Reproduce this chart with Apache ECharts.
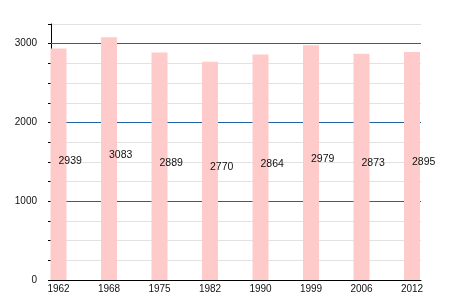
<!DOCTYPE html>
<html>
<head>
<meta charset="utf-8">
<script src="https://cdn.jsdelivr.net/npm/echarts@6/dist/echarts.min.js"></script>
<style>html,body{margin:0;padding:0;background:#fff}#c{width:450px;height:300px}</style>
</head>
<body>
<div id="c"></div>
<script>
var years = ['1962','1968','1975','1982','1990','1999','2006','2012'];
var population = [2939, 3083, 2889, 2770, 2864, 2979, 2873, 2895];
var yLabels = [0, 1000, 2000, 3000];
var majorLines = [1000, 2000, 3000];

var chart = echarts.init(document.getElementById('c'), null, {renderer: 'canvas'});
var font = 'Liberation Sans, Arial, sans-serif';
var blue = '#1f62a6', gray = '#e2e2e2';
chart.setOption({
  animation: false,
  grid: {left: 51, right: 29, top: 24, bottom: 20},
  xAxis: {
    type: 'value', min: -0.1485, max: 7.178,
    axisLine: {show: true, onZero: false, lineStyle: {color: '#000', width: 1}},
    axisTick: {show: false},
    splitLine: {show: false},
    axisLabel: {
      customValues: years.map(function (y, i) { return i; }),
      formatter: function (v) { return years[Math.round(v)]; },
      color: '#111', fontFamily: font, fontSize: 10, margin: 4
    }
  },
  yAxis: {
    type: 'value', min: 0, max: 3250, interval: 250,
    axisLine: {show: true, onZero: false, lineStyle: {color: '#000', width: 1}},
    axisTick: {show: true, length: 3, lineStyle: {color: '#000'}},
    splitLine: {show: true, lineStyle: {color: gray, width: 1}},
    axisLabel: {
      formatter: function (v) { return yLabels.indexOf(v) >= 0 ? String(v) : ''; },
      color: '#111', fontFamily: font, fontSize: 10, margin: 14
    }
  },
  series: [{
    type: 'bar',
    barWidth: 16,
    z: 3,
    data: population.map(function (v, i) { return [i, v]; }),
    itemStyle: {color: '#ffcaca'},
    label: {
      show: true, position: ['50%', '50%'], align: 'left', verticalAlign: 'middle',
      offset: [0, -3.5], color: '#111', fontFamily: font, fontSize: 10.5,
      formatter: function (p) { return String(p.value[1]); }
    },
    markLine: {
      silent: true, symbol: 'none', z: 1,
      label: {show: false},
      lineStyle: {color: blue, type: 'solid', width: 1},
      data: majorLines.map(function (v) { return {yAxis: v}; })
    }
  }]
});
</script>
</body>
</html>
